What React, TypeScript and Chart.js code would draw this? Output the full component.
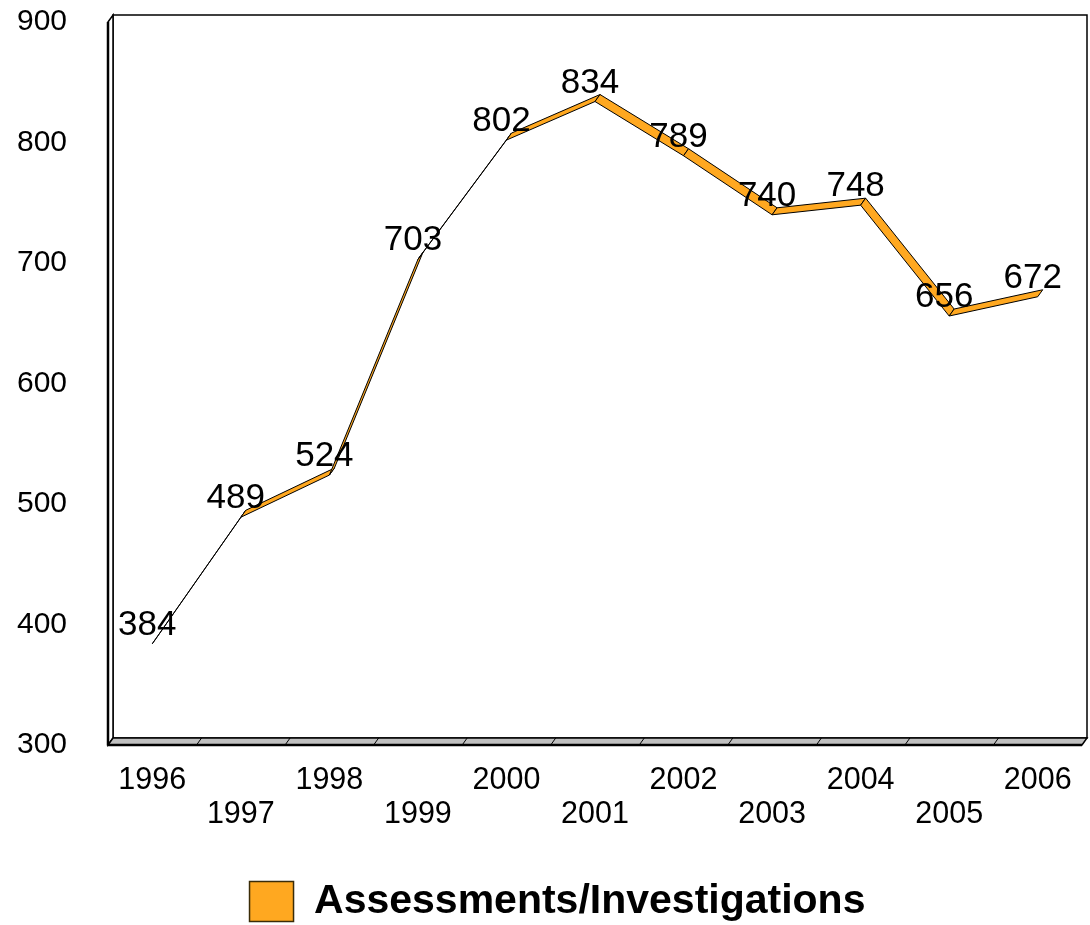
import React, { useEffect, useRef } from 'react';
import { Chart, registerables } from 'chart.js';

Chart.register(...registerables);

// Yearly totals
const years = ['1996', '1997', '1998', '1999', '2000', '2001', '2002', '2003', '2004', '2005', '2006'];
const assessments = [384, 489, 524, 703, 802, 834, 789, 740, 748, 656, 672];
const seriesName = 'Assessments/Investigations';

// Value axis range
const yMin = 300;
const yMax = 900;
const yStep = 100;

const FONT = '"Liberation Sans", Arial, Helvetica, sans-serif';
const RIBBON = '#FFA820';
const FLOOR = '#c0c0c0';

// Offset from the front plane to the back plane of the 3-D box
const DEPTH_X = 5;
const DEPTH_Y = -7;

// Horizontal nudge of the legend row to the right
const LEGEND_SHIFT = 8;

const legendShiftPlugin = {
  id: 'legendShift',
  afterLayout(chart: any) {
    const lg = chart.legend;
    if (lg) {
      lg.left += LEGEND_SHIFT;
      lg.right += LEGEND_SHIFT;
    }
  },
};

const depthPlugin = {
  id: 'depth3d',
  beforeDatasetsDraw(chart: any) {
    const { ctx, chartArea: a, scales } = chart;
    const xs = scales.x;
    const dx = DEPTH_X;
    const dy = DEPTH_Y;
    ctx.save();
    ctx.strokeStyle = '#000';
    ctx.fillStyle = '#fff';
    ctx.lineJoin = 'miter';

    // back wall
    ctx.lineWidth = 1.5;
    ctx.beginPath();
    ctx.rect(a.left + dx, a.top + dy, a.right - a.left, a.bottom - a.top);
    ctx.fill();
    ctx.stroke();

    // left side wall
    ctx.beginPath();
    ctx.moveTo(a.left, a.top);
    ctx.lineTo(a.left + dx, a.top + dy);
    ctx.lineTo(a.left + dx, a.bottom + dy);
    ctx.lineTo(a.left, a.bottom);
    ctx.closePath();
    ctx.fill();
    ctx.stroke();
    ctx.lineWidth = 2.5;
    ctx.beginPath();
    ctx.moveTo(a.left, a.top);
    ctx.lineTo(a.left, a.bottom);
    ctx.stroke();

    // floor
    ctx.fillStyle = FLOOR;
    ctx.lineWidth = 1.5;
    ctx.beginPath();
    ctx.moveTo(a.left, a.bottom);
    ctx.lineTo(a.right, a.bottom);
    ctx.lineTo(a.right + dx, a.bottom + dy);
    ctx.lineTo(a.left + dx, a.bottom + dy);
    ctx.closePath();
    ctx.fill();
    ctx.stroke();
    ctx.lineWidth = 2.5;
    ctx.beginPath();
    ctx.moveTo(a.left, a.bottom);
    ctx.lineTo(a.right, a.bottom);
    ctx.stroke();

    // category dividers across the floor
    ctx.lineWidth = 1;
    const n = xs.ticks.length;
    for (let i = 1; i < n; i++) {
      const bx = (xs.getPixelForTick(i - 1) + xs.getPixelForTick(i)) / 2;
      ctx.beginPath();
      ctx.moveTo(bx, a.bottom);
      ctx.lineTo(bx + dx, a.bottom + dy);
      ctx.stroke();
    }
    ctx.restore();
  },
  afterDatasetsDraw(chart: any) {
    const { ctx } = chart;
    const meta = chart.getDatasetMeta(0);
    const values = chart.data.datasets[0].data as number[];
    const pts = meta.data.map((p: any) => ({ x: p.x, y: p.y }));
    const dx = DEPTH_X;
    const dy = DEPTH_Y;
    ctx.save();

    // ribbon faces
    ctx.fillStyle = RIBBON;
    ctx.strokeStyle = '#000';
    ctx.lineWidth = 1;
    ctx.lineJoin = 'round';
    for (let i = 0; i < pts.length - 1; i++) {
      const p = pts[i];
      const q = pts[i + 1];
      ctx.beginPath();
      ctx.moveTo(p.x, p.y);
      ctx.lineTo(q.x, q.y);
      ctx.lineTo(q.x + dx, q.y + dy);
      ctx.lineTo(p.x + dx, p.y + dy);
      ctx.closePath();
      ctx.fill();
      ctx.stroke();
    }

    // value labels
    ctx.fillStyle = '#000';
    ctx.font = `35px ${FONT}`;
    ctx.textAlign = 'center';
    ctx.textBaseline = 'alphabetic';
    pts.forEach((p: any, i: number) => {
      ctx.fillText(String(values[i]), p.x - 5, p.y - 9);
    });
    ctx.restore();
  },
};

export default function App() {
  const canvasRef = useRef<HTMLCanvasElement | null>(null);

  useEffect(() => {
    const canvas = canvasRef.current;
    if (!canvas) return;
    const chart = new Chart(canvas, {
      type: 'line',
      data: {
        labels: years,
        datasets: [
          {
            label: seriesName,
            data: assessments,
            showLine: false,
            pointRadius: 0,
            pointHoverRadius: 0,
            backgroundColor: RIBBON,
            borderColor: '#3a2c08',
            borderWidth: 1.5,
          },
        ],
      },
      options: {
        responsive: false,
        animation: false,
        events: [],
        layout: { padding: { left: 17, right: 8, top: 22, bottom: 0 } },
        plugins: {
          legend: {
            display: true,
            position: 'bottom',
            labels: {
              boxWidth: 44,
              boxHeight: 40,
              padding: 3,
              color: '#000',
              font: { family: FONT, size: 41, weight: 'bold' },
            },
          },
          tooltip: { enabled: false },
        },
        scales: {
          x: {
            type: 'category',
            offset: true,
            grid: { display: false, drawTicks: false },
            border: { display: false },
            ticks: {
              autoSkip: false,
              maxRotation: 0,
              minRotation: 0,
              padding: 19,
              color: '#000',
              font: { family: FONT, size: 30.5, lineHeight: 34 / 30.5 },
              callback: function (this: any, value: any, index: number) {
                const label = this.getLabelForValue(value);
                return index % 2 ? ['', label] : label;
              },
            },
            afterFit: (scale: any) => {
              scale.height = 133;
              scale.paddingLeft = 0;
              scale.paddingRight = 0;
            },
          },
          y: {
            min: yMin,
            max: yMax,
            grid: { display: false, drawTicks: false },
            border: { display: false },
            ticks: {
              stepSize: yStep,
              padding: 41,
              color: '#000',
              font: { family: FONT, size: 30 },
            },
            afterFit: (scale: any) => {
              scale.width = 91;
              scale.paddingTop = 0;
              scale.paddingBottom = 0;
            },
          },
        },
      },
      plugins: [depthPlugin, legendShiftPlugin],
    });
    return () => chart.destroy();
  }, []);

  return (
    <div
      style={{
        position: 'fixed',
        left: 0,
        top: 0,
        width: 1090,
        height: 925,
        overflow: 'hidden',
        background: '#fff',
      }}
    >
      <canvas ref={canvasRef} width={1090} height={932} style={{ display: 'block' }} />
    </div>
  );
}
